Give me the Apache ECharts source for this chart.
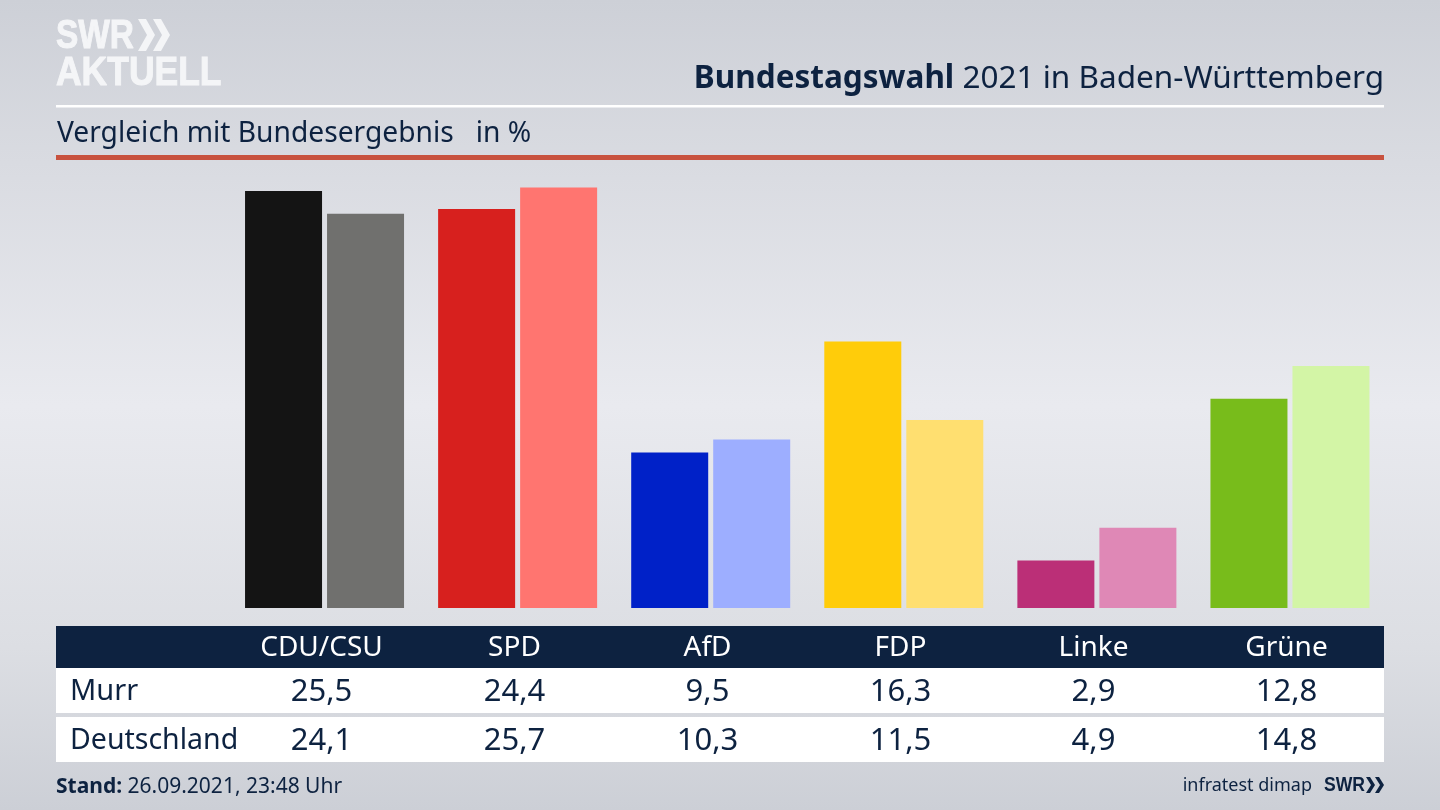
<!DOCTYPE html>
<html><head><meta charset="utf-8">
<style>html,body{margin:0;padding:0;background:#dfe0e6}#c{width:1440px;height:810px}</style>
<script src="https://cdn.jsdelivr.net/npm/echarts@6/dist/echarts.min.js"></script>
</head><body><div id="c"></div>
<script>
const categories = ['CDU/CSU','SPD','AfD','FDP','Linke','Grüne'];
const murr = [25.5,24.4,9.5,16.3,2.9,12.8];
const deutschland = [24.1,25.7,10.3,11.5,4.9,14.8];
const murrColors = ['#141414','#d7201e','#0021c8','#ffcc0a','#bb2f77','#78bc1b'];
const deColors = ['#70706e','#ff7570','#9daeff','#ffdf70','#df88b6','#d3f5a6'];
const rowNames = ['Murr','Deutschland'];
const titleBold = 'Bundestagswahl';
const titleRest = ' 2021 in Baden-Württemberg';
const subtitle = 'Vergleich mit Bundesergebnis   in %';
const standLabel = 'Stand:';
const standText = ' 26.09.2021, 23:48 Uhr';
const source = 'infratest dimap';
const NAVY = '#0d2240', F = '"Noto Sans",sans-serif', LOGO = '#f4f5f7', LF = '"Liberation Sans",sans-serif';
const de = v => v.toFixed(1).replace('.', ',');
const rect = (x,y,w,h,fill) => ({type:'rect',shape:{x,y,width:w,height:h},style:{fill},z:-5,silent:true});
const chev = (x,y,h,w,t,fill) => ({type:'polygon',shape:{points:[[x,y],[x+t,y],[x+t+w,y+h/2],[x+t,y+h],[x,y+h],[x+w,y+h/2]]},style:{fill},z:3,silent:true});
const txt = (x,y,text,size,fill,extra={}) => ({type:'text',x,y,z:3,silent:true,style:Object.assign({text,fontFamily:F,fontSize:size,fill,verticalAlign:'middle',align:'left'},extra)});
const axisX = (data,offset,color,size) => ({type:'category',data,position:'bottom',offset,gridIndex:1,z:10,
  axisLine:{show:false},axisTick:{show:false},
  axisLabel:{show:true,interval:0,margin:0,verticalAlign:'middle',color,fontFamily:F,fontSize:size}});
const chart = echarts.init(document.getElementById('c'),null,{renderer:'canvas'});
chart.setOption({
  animation:false,
  grid:[
    {left:228,right:53.5,top:150,bottom:202},
    {left:225,right:57,top:150,bottom:202}
  ],
  yAxis:[
    {type:'value',min:0,max:28,show:false,gridIndex:0},
    {type:'value',min:0,max:28,show:false,gridIndex:1}
  ],
  xAxis:[
    {type:'category',data:categories,gridIndex:0,show:false},
    axisX(categories,40,'#ffffff',28),
    axisX(murr.map(de),84,NAVY,31),
    axisX(deutschland.map(de),133,NAVY,31)
  ],
  series:[
    {name:rowNames[0],type:'bar',xAxisIndex:0,yAxisIndex:0,barWidth:77,barGap:'6.5%',z:2,
     data:murr.map((v,i)=>({value:v,itemStyle:{color:murrColors[i]}}))},
    {name:rowNames[1],type:'bar',xAxisIndex:0,yAxisIndex:0,barWidth:77,barGap:'6.5%',z:2,
     data:deutschland.map((v,i)=>({value:v,itemStyle:{color:deColors[i]}}))}
  ],
  graphic:{elements:[
    {type:'rect',shape:{x:0,y:0,width:1440,height:810},z:-10,silent:true,style:{fill:new echarts.graphic.LinearGradient(0,0,0,1,[
      {offset:0,color:'#cdd0d7'},{offset:0.2,color:'#d9dbe1'},{offset:0.5,color:'#e9eaef'},{offset:0.8,color:'#dcdee3'},{offset:1,color:'#cccfd6'}])}},
    rect(56,105,1328,2.5,'#ffffff'),
    rect(56,155,1328,5,'#c8523f'),
    rect(56,626,1328,42,NAVY),
    rect(56,668,1328,45,'#ffffff'),
    rect(56,717,1328,45,'#ffffff'),
    Object.assign(txt(56,37,'SWR',41,LOGO,{fontFamily:LF,fontWeight:'bold',stroke:LOGO,lineWidth:1}),{scaleX:0.815}),
    chev(138,19,32,9,8,LOGO),
    chev(153,19,32,9,8,LOGO),
    Object.assign(txt(56,74,'AKTUELL',41,LOGO,{fontFamily:LF,fontWeight:'bold',stroke:LOGO,lineWidth:1}),{scaleX:0.865}),
    txt(1384,79,`{b|${titleBold}}{r|${titleRest}}`,31.5,NAVY,{align:'right',rich:{
      b:{fontFamily:F,fontWeight:'bold',fontSize:31.5,fill:NAVY},r:{fontFamily:F,fontSize:31.5,fill:NAVY}}}),
    txt(57,134,subtitle,28.2,NAVY),
    txt(70,692,rowNames[0],29,NAVY),
    txt(70,741,rowNames[1],28.5,NAVY),
    txt(56,787,`{b|${standLabel}}{r|${standText}}`,21,NAVY,{rich:{
      b:{fontFamily:F,fontWeight:'bold',fontSize:21,fill:NAVY},r:{fontFamily:F,fontSize:21,fill:NAVY}}}),
    txt(1312,786,source,18,NAVY,{align:'right'}),
    Object.assign(txt(1324,785,'SWR',20,NAVY,{fontFamily:LF,fontWeight:'bold'}),{scaleX:0.88}),
    chev(1366,777,16,5,4,NAVY),
    chev(1375,777,16,5,4,NAVY)
  ]}
});
</script></body></html>
